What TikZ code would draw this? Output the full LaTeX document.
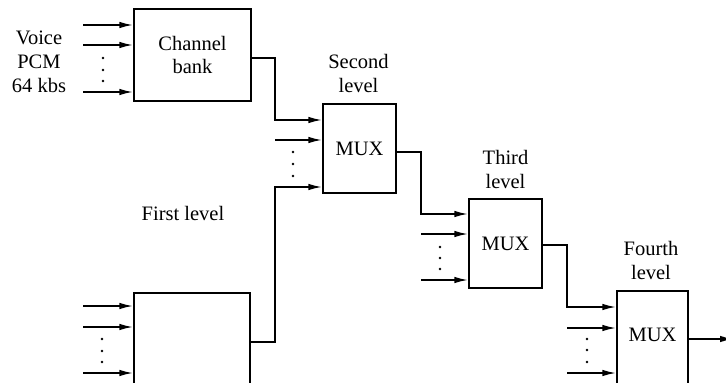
\documentclass[tikz,border=0pt]{standalone}
\usepackage{fontspec}
\setmainfont{Liberation Serif}
\usetikzlibrary{arrows.meta}
\begin{document}
\begin{tikzpicture}[x=1pt,y=-1pt,
  txt/.style={font=\fontsize{20.5}{24}\selectfont, align=center, inner sep=0pt},
  box/.style={draw, line width=1.1pt, inner sep=0pt, font=\fontsize{20.5}{23}\selectfont, align=center},
  conn/.style={line width=1.9pt, -{Latex[length=14pt,width=6.5pt]}},
  dotm/.style={fill, circle, inner sep=0pt, minimum size=2.6pt}
]
\useasboundingbox (0,0) rectangle (726,383);
\clip (0,0) rectangle (726,383);
% boxes
\node[box, minimum width=117pt, minimum height=92pt] (cb) at (192.5,55) {Channel\\bank};
\node[box, minimum width=73pt, minimum height=89pt] (m2) at (359.5,148.5) {MUX};
\node[box, minimum width=73pt, minimum height=89pt] (m3) at (505.5,243.5) {MUX};
\node[box, minimum width=71pt, minimum height=110pt,
      label={[txt, name=m4t, yshift=11pt]center:MUX}] (m4) at (652.5,346) {};
\node[box, minimum width=116pt, minimum height=110pt] (fl) at (192,348) {};
% labels
\node[txt] (vlab) at (39,62) {Voice\\PCM\\64 kbs};
\node[txt] (l2) at (358.5,73) {Second\\level};
\node[txt] (l3) at (505.5,169) {Third\\level};
\node[txt] (l4) at (651,260) {Fourth\\level};
\node[txt] (l1) at (183,213) {First level};
% free ends of the input arrows
\foreach \n/\x/\y in {a1/83/25, a2/83/45, a3/83/92,
                      b1/83/306, b2/83/327, b3/83/373,
                      c2/275/140, c3/275/187,
                      d2/421/234, d3/421/280,
                      e2/567/328, e3/567/373}
  \coordinate (\n) at (\x,\y);
\coordinate (out) at (734,339);
% inputs to channel bank
\draw[conn] (a1) -- (a1 -| cb.west);
\draw[conn] (a2) -- (a2 -| cb.west);
\draw[conn] (a3) -- (a3 -| cb.west);
% inputs to first-level box
\draw[conn] (b1) -- (b1 -| fl.west);
\draw[conn] (b2) -- (b2 -| fl.west);
\draw[conn] (b3) -- (b3 -| fl.west);
% second level
\draw[conn] ([yshift=-3pt]cb.east) -| (c3 |- 0,90) |- ([yshift=28.5pt]m2.west);
\draw[conn] (c2) -- (c2 -| m2.west);
\draw[conn] ([yshift=6pt]fl.east) -| (c3) -- (c3 -| m2.west);
% third level
\draw[conn] ([yshift=-3.5pt]m2.east) -| (d2 |- 0,200) |- ([yshift=29.5pt]m3.west);
\draw[conn] (d2) -- (d2 -| m3.west);
\draw[conn] (d3) -- (d3 -| m3.west);
% fourth level
\draw[conn] ([yshift=-1.5pt]m3.east) -| (e2 |- 0,290) |- ([yshift=39pt]m4.west);
\draw[conn] (e2) -- (e2 -| m4.west);
\draw[conn] (e3) -- (e3 -| m4.west);
\draw[conn] ([yshift=7pt]m4.east) -- (out);
% dots
\foreach \x/\y in {103/58, 103/70, 103/81,
                   102/339, 102/351, 102/362,
                   293/152, 293/164, 293/176,
                   440/247, 440/258, 440/269,
                   587/339, 587/350, 587/362}
  \node[dotm] at (\x,\y) {};
\end{tikzpicture}
\end{document}
